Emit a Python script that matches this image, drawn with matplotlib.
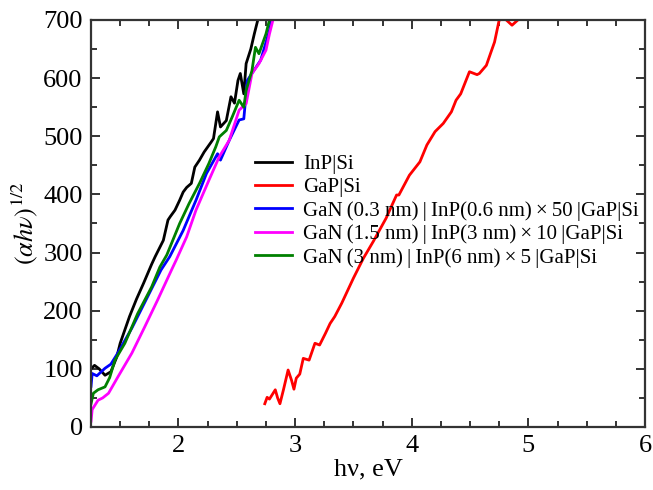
import matplotlib
matplotlib.use("Agg")
import matplotlib.pyplot as plt
from matplotlib.ticker import MultipleLocator

# (alpha*h*nu)^(1/2) vs photon energy
inp_x = [1.25, 1.28, 1.32, 1.37, 1.42, 1.47, 1.50, 1.58, 1.64, 1.70, 1.77, 1.80, 1.87,
         1.91, 1.93, 1.97, 2.01, 2.04, 2.07, 2.11, 2.14, 2.18, 2.22, 2.28, 2.30, 2.335,
         2.36, 2.41, 2.45, 2.48, 2.51, 2.53, 2.56, 2.58, 2.62, 2.65, 2.68]
inp_y = [100, 106, 100, 89, 95, 120, 144, 190, 220, 247, 280, 293, 321,
         356, 362, 373, 390, 404, 412, 419, 447, 459, 473, 490, 496, 542,
         516, 527, 568, 557, 596, 608, 573, 625, 650, 676, 700]

gap_x = [2.74, 2.76, 2.78, 2.83, 2.85, 2.87, 2.90, 2.94, 2.97, 2.99, 3.01, 3.04, 3.07,
         3.12, 3.17, 3.21, 3.26, 3.30, 3.34, 3.40, 3.50, 3.585, 3.67, 3.78, 3.87, 3.89,
         3.98, 4.07, 4.13, 4.20, 4.27, 4.34, 4.38, 4.42, 4.495, 4.56, 4.58, 4.64, 4.68,
         4.71, 4.75, 4.80, 4.86, 4.91]
gap_y = [40, 51, 48, 64, 50, 40, 64, 98, 80, 65, 84, 91, 118,
         115, 144, 141, 161, 178, 190, 213, 256, 290, 319, 359, 399, 399,
         433, 456, 485, 508, 522, 542, 562, 573, 611, 606, 608, 622, 645,
         662, 700, 702, 691, 700]

gan03_x = [1.25, 1.26, 1.30, 1.37, 1.42, 1.47, 1.51, 1.60, 1.70, 1.85, 1.925, 2.04, 2.15,
           2.24, 2.335, 2.36, 2.435, 2.52, 2.56, 2.59, 2.705, 2.78, 2.80]
gan03_y = [70, 92, 88, 101, 108, 124, 138, 170, 210, 270, 293, 338, 390,
           436, 470, 459, 493, 528, 530, 596, 631, 682, 700]

gan15_x = [1.25, 1.26, 1.31, 1.35, 1.40, 1.48, 1.60, 1.71, 1.82, 1.94, 1.98, 2.07, 2.15,
           2.26, 2.35, 2.435, 2.52, 2.58, 2.63, 2.69, 2.75, 2.78, 2.81]
gan15_y = [10, 30, 46, 50, 58, 86, 127, 172, 218, 270, 287, 327, 373,
           424, 465, 493, 545, 556, 608, 625, 648, 676, 700]

gan3_x = [1.25, 1.27, 1.31, 1.37, 1.41, 1.455, 1.54, 1.65, 1.77, 1.84, 1.90, 2.01, 2.09,
          2.18, 2.26, 2.32, 2.35, 2.41, 2.46, 2.52, 2.56, 2.58, 2.63, 2.66, 2.69, 2.75,
          2.78]
gan3_y = [40, 58, 64, 69, 85, 115, 144, 195, 241, 275, 296, 350, 384,
          419, 453, 482, 499, 510, 533, 562, 550, 579, 613, 653, 642, 676,
          700]

TS = "\u2009"
labels = [
    "InP|Si",
    "GaP|Si",
    f"GaN{TS}(0.3 nm){TS}|{TS}InP(0.6 nm){TS}×{TS}50{TS}|GaP|Si",
    f"GaN{TS}(1.5 nm){TS}|{TS}InP(3 nm){TS}×{TS}10{TS}|GaP|Si",
    f"GaN{TS}(3 nm){TS}|{TS}InP(6 nm){TS}×{TS}5{TS}|GaP|Si",
]
colors = ["black", "red", "blue", "magenta", "green"]

plt.rcParams["font.family"] = ["Liberation Serif", "DejaVu Serif"]
plt.rcParams["mathtext.fontset"] = "stix"

fig = plt.figure(figsize=(6.53, 4.90), dpi=100)
ax = fig.add_axes([0.1394, 0.1286, 0.8483, 0.8306])

series = [(inp_x, inp_y), (gap_x, gap_y), (gan03_x, gan03_y),
          (gan15_x, gan15_y), (gan3_x, gan3_y)]
for (x, y), c, lab in zip(series, colors, labels):
    ax.plot(x, y, color=c, lw=2.0, label=lab)

ax.set_xlim(1.25, 6)
ax.set_ylim(0, 700)
ax.set_xticks([2, 3, 4, 5, 6])
ax.xaxis.set_minor_locator(MultipleLocator(0.25))
ax.yaxis.set_major_locator(MultipleLocator(100))
ax.yaxis.set_minor_locator(MultipleLocator(50))
ax.tick_params(which="both", direction="in", top=True, right=True,
               labelsize=19, color="#333333", width=1.4, pad=6)
ax.tick_params(which="major", length=6.5)
ax.tick_params(which="minor", length=4)
for sp in ax.spines.values():
    sp.set_linewidth(1.6)
    sp.set_color("#333333")

ax.set_xlabel("hν, eV", fontsize=19, labelpad=1)
ax.set_ylabel(r"$(\alpha h\nu)^{1/2}$", fontsize=19, labelpad=2)

ax.legend(loc="upper left", bbox_to_anchor=(0.296, 0.67), frameon=False,
          fontsize=15, handlelength=1.8, handletextpad=0.5, labelspacing=0.18,
          borderpad=0, borderaxespad=0)

fig.savefig("out.png", dpi=100)
